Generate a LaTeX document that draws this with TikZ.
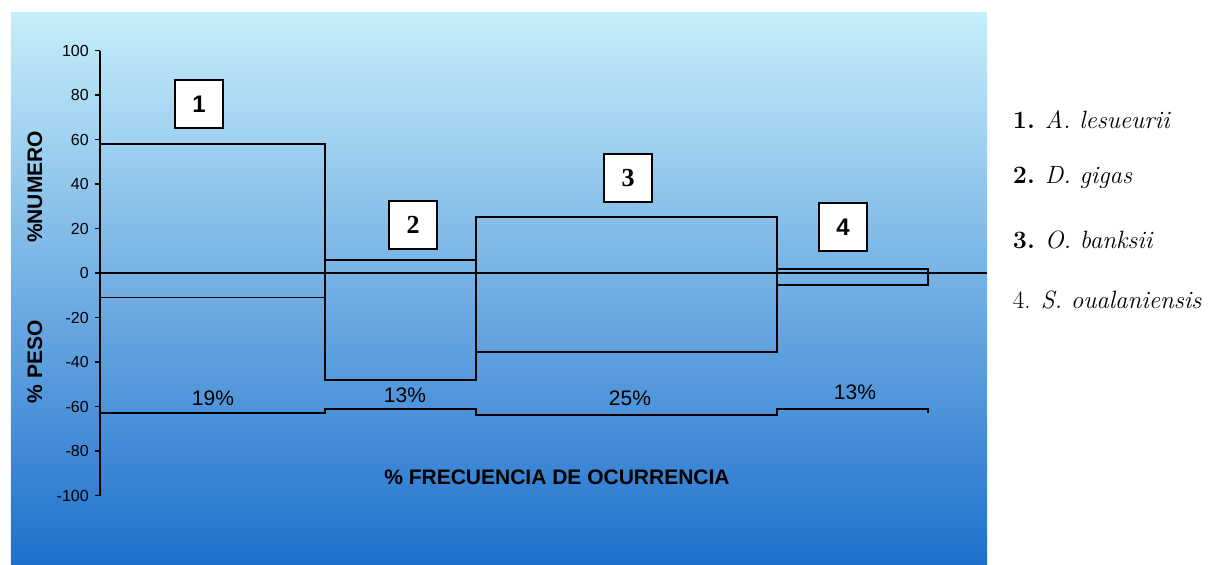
\documentclass[tikz,border=0pt]{standalone}
\usepackage{fontspec}
\setsansfont{Liberation Sans}
\newfontfamily\timesfont{Liberation Serif}
\usepackage{tikz}
\definecolor{bgtop}{RGB}{198,238,250}
\definecolor{bgmid}{RGB}{108,172,230}
\definecolor{bgbot}{RGB}{30,112,205}

\begin{document}
\begin{tikzpicture}[x=1pt, y=2.225pt, line width=1.9pt,
	every node/.style={font=\sffamily\fontsize{16}{16}\selectfont},
	numbox/.style={draw, fill=white, line width=1.9pt, minimum width=48pt, minimum height=48pt, inner sep=0pt, font=\sffamily\bfseries\fontsize{24}{24}\selectfont},
	pct/.style={font=\sffamily\fontsize{21}{21}\selectfont},
	axlabel/.style={font=\sffamily\bfseries\fontsize{21}{21}\selectfont},
	legend/.style={anchor=west, inner sep=0pt, font=\rmfamily\fontsize{25}{25}\selectfont}]
			\useasboundingbox (-100,-130.8) rectangle (1128,122.7);
			\shade[top color=bgtop, middle color=bgmid, bottom color=bgbot] (-89,-130.8) rectangle (887,117.3);
			% axis
			\draw (0,-100) -- (0,100);
			\foreach \v in {-100,-80,...,100}
				\draw (0,\v) -- (-5,\v) node[left=2pt] {\v};
			\node[axlabel, rotate=90](num) at (-65,38.7) {\%NUMERO};
			\node[axlabel, rotate=90](peso) at (-65,-40) {\% PESO};
			% bars
			\draw (0,-11) rectangle (225,58);
			\draw (225,-48) rectangle (376,6);
			\draw (376,-35.5) rectangle (677,25);
			\draw (677,-5.5) rectangle (828,2);
			\draw (0,0) -- (887,0);
			\draw (0,-63) -- (225,-63) -- (225,-61) -- (376,-61) -- (376,-64) -- (677,-64) -- (677,-61) -- (828,-61) -- (828,-63);
			\node[pct](f1) at (113,-56.2) {19\%};
			\node[pct](f2) at (305,-54.8) {13\%};
			\node[pct](f3) at (530,-56.2) {25\%};
			\node[pct](f4) at (755,-53.5) {13\%};
			\node[numbox](b1) at (99,76) {1};
			\node[numbox, font=\timesfont\bfseries\fontsize{26}{26}\selectfont](b2) at (313,21.6) {2};
			\node[numbox, font=\timesfont\bfseries\fontsize{26}{26}\selectfont](b3) at (528,42.7) {3};
			\node[numbox](b4) at (743,20.7) {4};
			\node[axlabel](freq) at (457,-91.7) {\% FRECUENCIA DE OCURRENCIA};
			% legend
			\node[legend](sp1) at (912,68.8) {\textbf{1.} \textit{A. lesueurii}};
			\node[legend](sp2) at (912,43.1) {\textbf{2.} \textit{D. gigas}};
			\node[legend](sp3) at (912,14.8) {\textbf{3.} \textit{O. banksii}};
			\node[legend](sp4) at (912,-12.1) {4. \textit{S. oualaniensis}};
		\end{tikzpicture}
\end{document}
